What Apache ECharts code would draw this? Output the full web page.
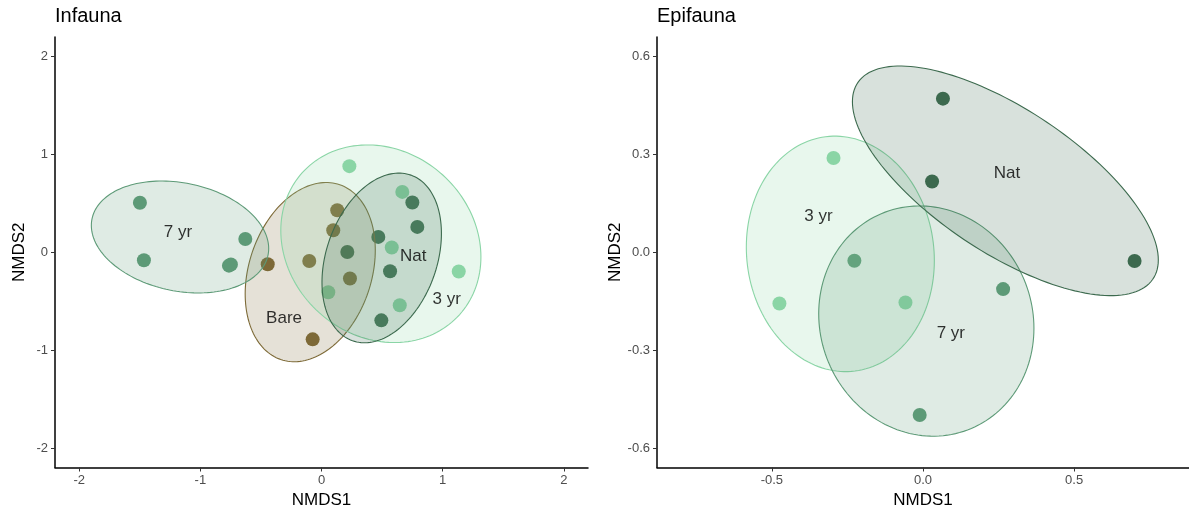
<!DOCTYPE html>
<html><head><meta charset="utf-8">
<script src="https://cdn.jsdelivr.net/npm/echarts@6/dist/echarts.min.js"></script>
<style>html,body{margin:0;padding:0;background:#fff}#c{width:1189px;height:515px}</style>
</head><body><div id="c"></div>
<script>
// ---------- Infauna (left panel) ----------
const infBareX = [-0.444, -0.101, 0.130, 0.097, 0.235, -0.073];
const infBareY = [-0.123, -0.089, 0.430, 0.225, -0.269, -0.890];
const inf3yrX  = [0.230, 0.667, 0.580, 1.133, 0.646, 0.056];
const inf3yrY  = [0.880, 0.617, 0.049, -0.197, -0.542, -0.409];
const inf7yrX  = [-1.499, -1.466, -0.629, -0.764, -0.748];
const inf7yrY  = [0.506, -0.082, 0.136, -0.137, -0.125];
const infNatX  = [0.750, 0.791, 0.469, 0.213, 0.566, 0.494];
const infNatY  = [0.509, 0.259, 0.157, 0.003, -0.194, -0.696];
// ellipses: [centerX, centerY, halfWidth, halfHeight, tilt(rho)]
const infEllBare = [-0.093, -0.203, 0.537, 0.916, 0.244];
const infEll3yr  = [0.490, 0.087, 0.826, 1.010, -0.134];
const infEll7yr  = [-1.168, 0.156, 0.732, 0.572, -0.206];
const infEllNat  = [0.497, -0.058, 0.493, 0.867, 0.288];
const infLabels  = ['7 yr', 'Bare', 'Nat', '3 yr'];
const infLabelX  = [-1.185, -0.309, 0.758, 1.034];
const infLabelY  = [0.205, -0.679, -0.041, -0.484];
const infTicks   = [-2, -1, 0, 1, 2];

// ---------- Epifauna (right panel) ----------
const epi3yrX = [-0.296, -0.475, -0.058];
const epi3yrY = [0.289, -0.157, -0.154];
const epi7yrX = [-0.227, 0.265, -0.011];
const epi7yrY = [-0.026, -0.113, -0.499];
const epiNatX = [0.066, 0.030, 0.700];
const epiNatY = [0.471, 0.217, -0.027];
const epiEll3yr = [-0.2735, -0.005, 0.311, 0.361, -0.057];
const epiEll7yr = [0.011, -0.211, 0.356, 0.353, -0.063];
const epiEllNat = [0.2725, 0.219, 0.506, 0.352, -0.689];
const epiLabels = ['Nat', '3 yr', '7 yr'];
const epiLabelX = [0.278, -0.346, 0.092];
const epiLabelY = [0.242, 0.109, -0.249];
const epiXTicks = [-0.5, 0, 0.5];
const epiYTicks = [-0.6, -0.3, 0, 0.3, 0.6];

const COL = {Bare: '#7d6a37', '3 yr': '#8ad5a6', '7 yr': '#5d9a77', Nat: '#3c6a4e'};
const FONT = '"Liberation Sans", Arial, sans-serif';

function rgba(hex, a) {
  const n = parseInt(hex.slice(1), 16);
  return 'rgba(' + (n >> 16 & 255) + ',' + (n >> 8 & 255) + ',' + (n & 255) + ',' + a + ')';
}
function zip(xs, ys) { return xs.map((x, i) => [x, ys[i]]); }

function pointSeries(gi, xs, ys, color) {
  return {type: 'scatter', xAxisIndex: gi, yAxisIndex: gi, data: zip(xs, ys),
    symbolSize: 14, itemStyle: {color: color, opacity: 1}, z: 2, silent: true};
}
function ellipseSeries(gi, ell, color) {
  return {type: 'custom', xAxisIndex: gi, yAxisIndex: gi, data: [ell], z: 3, silent: true,
    encode: {x: 0, y: 1},
    renderItem: function (params, api) {
      const cx = api.value(0), cy = api.value(1), rx = api.value(2), ry = api.value(3), rho = api.value(4);
      const s = Math.sqrt(1 - rho * rho);
      const pts = [];
      for (let i = 0; i <= 160; i++) {
        const t = i / 160 * 2 * Math.PI;
        pts.push(api.coord([cx + rx * Math.cos(t), cy + ry * (rho * Math.cos(t) + s * Math.sin(t))]));
      }
      return {type: 'polygon', shape: {points: pts},
        style: {fill: rgba(color, 0.2), stroke: color, lineWidth: 1.1}};
    }};
}
function labelSeries(gi, names, xs, ys) {
  return {type: 'scatter', xAxisIndex: gi, yAxisIndex: gi, symbolSize: 0, z: 5, silent: true,
    data: names.map((n, i) => ({name: n, value: [xs[i], ys[i]]})),
    label: {show: true, position: 'inside', formatter: p => p.name,
      color: '#000', fontSize: 17, fontFamily: FONT}};
}
function xAxis(gi, min, max, ticks, fmt) {
  return {type: 'value', gridIndex: gi, min: min, max: max,
    name: 'NMDS1', nameLocation: 'middle', nameGap: 23,
    nameTextStyle: {fontSize: 17, color: '#000', fontFamily: FONT},
    axisLine: {onZero: false, lineStyle: {color: '#000', width: 1.5}},
    axisTick: {customValues: ticks, length: 4, lineStyle: {color: '#333', width: 1}},
    axisLabel: {customValues: ticks, formatter: fmt, fontSize: 13, color: '#4d4d4d', margin: 6, fontFamily: FONT},
    splitLine: {show: false}};
}
function yAxis(gi, min, max, ticks, fmt) {
  return {type: 'value', gridIndex: gi, min: min, max: max,
    name: 'NMDS2', nameLocation: 'middle', nameGap: 27, nameRotate: 90,
    nameTextStyle: {fontSize: 17, color: '#000', fontFamily: FONT},
    axisLine: {onZero: false, lineStyle: {color: '#000', width: 1.5}},
    axisTick: {customValues: ticks, length: 4, lineStyle: {color: '#333', width: 1}},
    axisLabel: {customValues: ticks, formatter: fmt, fontSize: 13, color: '#4d4d4d', margin: 7, fontFamily: FONT},
    splitLine: {show: false}};
}

const fmtInt = v => String(v);
const fmt1 = v => (Math.abs(v) < 1e-9 ? 0 : v).toFixed(1);

const option = {
  animation: false,
  backgroundColor: '#fff',
  title: [
    {text: 'Infauna', left: 55, top: 6, padding: 0, textStyle: {fontSize: 20, fontWeight: 'normal', color: '#000', fontFamily: FONT}},
    {text: 'Epifauna', left: 657, top: 6, padding: 0, textStyle: {fontSize: 20, fontWeight: 'normal', color: '#000', fontFamily: FONT}}
  ],
  grid: [
    {left: 55, top: 37, width: 533, height: 430.5},
    {left: 657, top: 37, width: 532, height: 430.5}
  ],
  xAxis: [xAxis(0, -2.2, 2.2, infTicks, fmtInt), xAxis(1, -0.88, 0.88, epiXTicks, fmt1)],
  yAxis: [yAxis(0, -2.2, 2.2, infTicks, fmtInt), yAxis(1, -0.66, 0.66, epiYTicks, fmt1)],
  series: [
    pointSeries(0, infBareX, infBareY, COL.Bare),
    pointSeries(0, inf3yrX, inf3yrY, COL['3 yr']),
    pointSeries(0, inf7yrX, inf7yrY, COL['7 yr']),
    pointSeries(0, infNatX, infNatY, COL.Nat),
    ellipseSeries(0, infEllBare, COL.Bare),
    ellipseSeries(0, infEll3yr, COL['3 yr']),
    ellipseSeries(0, infEll7yr, COL['7 yr']),
    ellipseSeries(0, infEllNat, COL.Nat),
    labelSeries(0, infLabels, infLabelX, infLabelY),
    pointSeries(1, epi3yrX, epi3yrY, COL['3 yr']),
    pointSeries(1, epi7yrX, epi7yrY, COL['7 yr']),
    pointSeries(1, epiNatX, epiNatY, COL.Nat),
    ellipseSeries(1, epiEll3yr, COL['3 yr']),
    ellipseSeries(1, epiEll7yr, COL['7 yr']),
    ellipseSeries(1, epiEllNat, COL.Nat),
    labelSeries(1, epiLabels, epiLabelX, epiLabelY)
  ]
};
const chart = echarts.init(document.getElementById('c'), null, {renderer: 'canvas'});
chart.setOption(option);
</script>
</body></html>
